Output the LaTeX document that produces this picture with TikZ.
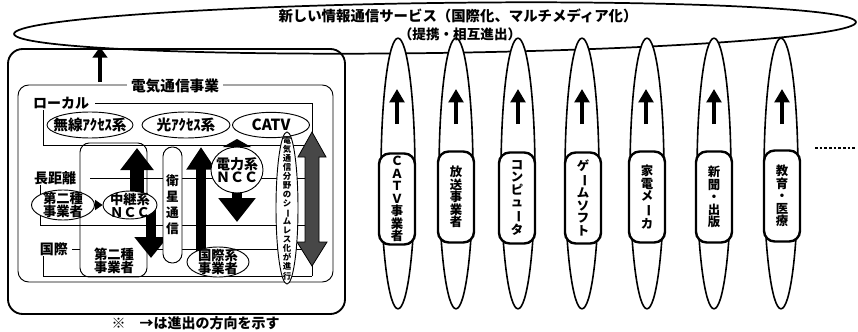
\documentclass[tikz,border=0pt]{standalone}
\usepackage{fontspec}
\newfontfamily\jp{Noto Sans CJK JP}
\usetikzlibrary{shapes.geometric,arrows.meta}
\pgfdeclarelayer{bg}
\pgfsetlayers{bg,main}
\newcommand\vbar{\rotatebox[origin=c]{-90}{ー}}
\newcommand\jfs[2]{\jp\bfseries\fontsize{#1}{#2}\selectfont}
\begin{document}
\begin{tikzpicture}[x=0.75pt,y=-0.75pt,
  txt/.style={font=\jfs{10.5}{12}, inner sep=1pt},
  ell/.style={ellipse, draw, fill=white, line width=0.7pt, inner sep=0pt},
  ltxt/.style={font=\jfs{10}{9.6}, align=center, inner sep=0pt},
  colell/.style={ellipse, draw, fill=white, line width=1.2pt, inner sep=0pt, minimum width=25.5pt, minimum height=203pt},
  colbox/.style={rectangle, rounded corners=8pt, draw, fill=white, line width=1.8pt, inner sep=0pt, minimum width=27pt, minimum height=68.25pt},
  coltxt/.style={font=\jfs{9.3}{9.4}, align=center, inner sep=0pt},
  uparrow/.style={line width=2.4pt, -{Triangle[width=11pt,length=10pt]}},
  band/.style={line width=0.6pt}]
\useasboundingbox (0,0) rectangle (858,332);
\begin{pgfonlayer}{bg}
\fill[white] (0,0) rectangle (858,332);
\node[ellipse, draw, line width=1.3pt, minimum width=631.5pt, minimum height=37.5pt, inner sep=0pt, rotate=0.8] (big) at (435,28) {};
% outer and inner boxes
\draw[line width=1.4pt, rounded corners=11pt] (8,49) rectangle (345,314);
\draw[line width=0.7pt, rounded corners=8pt] (18,85) rectangle (333,282);
% bands
\draw[band] (95,103) -- (312,103) -- (312,276);
\draw[band] (43,110) -- (43,145) -- (312,145);
\draw[band] (90,178) -- (312,178);
\draw[band] (40,185) -- (40,225) -- (312,225);
\draw[band] (72,249) -- (80,249);
\draw[band] (147,249) -- (312,249);
\draw[band] (43,256) -- (43,276) -- (312,276);
\draw[line width=0.7pt, rounded corners=7pt] (80,143) rectangle (147,277);
% big black arrows
\coordinate (r1s) at (137,205); \coordinate (r1t) at (137,148);
\coordinate (r2s) at (151,205); \coordinate (r2t) at (151,258);
\coordinate (k1s) at (201,262); \coordinate (k1t) at (201,147);
\coordinate (d1s) at (237,170); \coordinate (d1t) at (237,222);
\coordinate (h1s) at (237,170); \coordinate (h1t) at (237,139);
\draw[line width=10.5pt, -{Triangle[width=24pt,length=16.5pt]}] (r1s) -- (r1t);
\draw[line width=8pt, -{Triangle[width=24pt,length=15.75pt]}] (r2s) -- (r2t);
\draw[line width=7.5pt, -{Triangle[width=21pt,length=17pt]}] (k1s) -- (k1t);
\draw[line width=7.5pt, -{Triangle[width=27pt,length=18pt]}] (d1s) -- (d1t);
\draw[line width=7.5pt, -{Triangle[width=21pt,length=6pt]}] (h1s) -- (h1t);
% gray double arrow
\coordinate (gtop) at (312,132);
\draw[fill=black!72, line width=0.6pt] (gtop) -- ++(14,25) -- ++(-7,0) -- ++(0,85) -- ++(8,0) -- ++(-15,24) -- ++(-15,-24) -- ++(8,0) -- ++(0,-85) -- ++(-7,0) -- cycle;
\end{pgfonlayer}
% right columns
\node[colell] (e1) at (398,173.5) {};
\node[colell] (e2) at (456,173.5) {};
\node[colell] (e3) at (518,173.5) {};
\node[colell] (e4) at (582,173.5) {};
\node[colell] (e5) at (647,173.5) {};
\node[colell] (e6) at (714,173.5) {};
\node[colell] (e7) at (781,173.5) {};
\node[colbox, label={[coltxt]center:Ｃ\\Ａ\\Ｔ\\Ｖ\\事\\業\\者}] (b1) at (397,199) {};
\node[colbox, label={[coltxt]center:放\\送\\事\\業\\者}] (b2) at (456,197) {};
\node[colbox, label={[coltxt]center:コ\\ン\\ピ\\ュ\\\vbar\\タ}] (b3) at (517,198) {};
\node[colbox, label={[coltxt]center:ゲ\\\vbar\\ム\\ソ\\フ\\ト}] (b4) at (583,198) {};
\node[colbox, label={[coltxt]center:家\\電\\メ\\\vbar\\カ}] (b5) at (647,197) {};
\node[colbox, label={[coltxt]center:新\\聞\\・\\出\\版}] (b6) at (714,197) {};
\node[colbox, label={[coltxt]center:教\\育\\・\\医\\療}] (b7) at (782,196) {};
\foreach \i/\x in {1/397,2/456,3/518,4/582,5/646,6/714,7/782}{
  \coordinate (a\i s) at (\x,124); \coordinate (a\i t) at (\x,89);
  \draw[uparrow] (a\i s) -- (a\i t);
}
\coordinate (dl1) at (815,148); \coordinate (dl2) at (856,148);
\draw[line width=2pt, dash pattern=on 2pt off 1.5pt] (dl1) -- (dl2);
% titles
\node[txt, font=\jfs{10.8}{12}] (t1) at (458,16) {新しい情報通信サービス（国際化、マルチメディア化）};
\node[txt, font=\jfs{10.2}{12}] (t2) at (460,34) {（提携・相互進出）};
% left arrow out of box
\coordinate (oa1) at (100,82); \coordinate (oa2) at (100,47);
\draw[line width=3.5pt, -{Triangle[width=11pt,length=8pt]}] (oa1) -- (oa2);
% labels
\node[txt, fill=white, inner xsep=3pt, font=\jfs{11}{12}] (tele) at (175,86) {電気通信事業};
\node[txt] (local) at (61,103) {ローカル};
\node[txt] (long) at (55,178) {長距離};
\node[txt] (intl) at (54,249) {国際};
% local ellipses
\node[ell, minimum width=64.5pt, minimum height=19.5pt, label={[ltxt, font=\jfs{11}{12}]center:無線ｱｸｾｽ系}] (musen) at (90,125) {};
\node[ell, minimum width=66pt, minimum height=19.5pt, label={[ltxt, font=\jfs{11}{12}]center:光ｱｸｾｽ系}] (hikari) at (186,125) {};
\node[ell, minimum width=57.75pt, minimum height=19pt, label={[ltxt, font=\jfs{11.5}{12}]center:CATV}] (catv) at (271,125) {};
% long distance
\node[ell, minimum width=47.25pt, minimum height=22.5pt, label={[ltxt]center:第二種\\事業者}] (d2a) at (63,205) {};
\node[ell, minimum width=40.5pt, minimum height=21pt, label={[ltxt]center:中継系\\ＮＣＣ}] (ncc) at (130,205) {};
\draw[line width=0.5pt, -{Triangle[width=7.5pt,length=5.5pt]}] (d2a.east) -- (ncc.west);
\node[rectangle, rounded corners=7pt, draw, fill=white, line width=0.7pt, inner sep=0pt, minimum width=14.25pt, minimum height=87pt, label={[ltxt, font=\jfs{9.5}{12}]center:衛\\星\\通\\信}] (sat) at (172.5,205) {};
\node[ell, minimum width=39pt, minimum height=34.5pt, label={[ltxt, font=\jfs{10.5}{9}]center:電力系\\ＮＣＣ}] (den) at (237,170) {};
% international
\node[ltxt, font=\jfs{10}{9.75}] (d2b) at (114,261) {第二種\\事業者};
\node[ell, minimum width=46.5pt, minimum height=22.5pt, label={[ltxt, font=\jfs{10}{9.75}]center:国際系\\事業者}] (koku) at (218,262) {};
% seamless
\node[ell, minimum width=16.5pt, minimum height=114pt, label={[ltxt, font=\jfs{6.3}{6.8}]center:電\\気\\通\\信\\分\\野\\の\\シ\\\vbar\\ム\\レ\\ス\\化\\が\\進\\行}] (seam) at (287,208) {};
% caption
\node[txt, anchor=west] (cap) at (110,323) {※　→は進出の方向を示す};
\end{tikzpicture}
\end{document}
